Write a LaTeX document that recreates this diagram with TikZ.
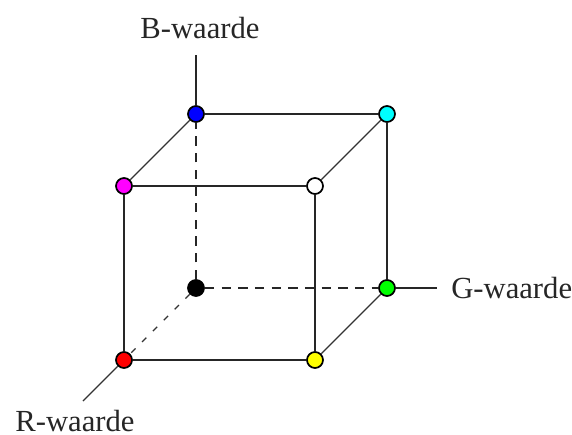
\documentclass[tikz,border=0pt]{standalone}
\usepackage{fontspec}
\setmainfont{Liberation Serif}
\usepackage{xcolor}
\definecolor{rgbcyan}{RGB}{0,255,255}
\definecolor{rgbmagenta}{RGB}{255,0,255}
\definecolor{rgbgreen}{RGB}{0,255,0}
\definecolor{rgbyellow}{RGB}{255,255,0}

\begin{document}
\begin{tikzpicture}[
  x=0.75pt, y=-0.75pt,
  hoek/.style ={circle, draw=black, line width=1.3pt, inner sep=0pt,
                minimum size=12pt},
  rib/.style  ={line width=1.5pt, color=black!85},
  schuin/.style={line width=1pt, color=black!80},
  verborgen/.style={rib, dash pattern=on 7pt off 5.5pt},
  lbl/.style  ={font=\fontsize{23}{24}\selectfont, color=black!85, inner sep=0pt}
]
  \useasboundingbox (0,0) rectangle (572,435);

  %% ── Corners of the cube ─────────────────────────────────────────────────
  \node[hoek, fill=black]      (zwart)   at (196, 288) {};
  \node[hoek, fill=rgbgreen]   (groen)   at (387, 288) {};
  \node[hoek, fill=blue]       (blauw)   at (196, 114) {};
  \node[hoek, fill=rgbcyan]    (cyaan)   at (387, 114) {};
  \node[hoek, fill=red]        (rood)    at (124, 360) {};
  \node[hoek, fill=rgbyellow]  (geel)    at (315, 360) {};
  \node[hoek, fill=rgbmagenta] (magenta) at (124, 186) {};
  \node[hoek, fill=white]      (wit)     at (315, 186) {};

  %% ── Axis ends and labels ────────────────────────────────────────────────
  \coordinate (beind) at (196, 55);
  \coordinate (geind) at (437, 288);
  \coordinate (reind) at (83, 401);
  \node[lbl] (blbl) at (200, 28)  {B-waarde};
  \node[lbl, anchor=west] (glbl) at (451, 288) {G-waarde};
  \node[lbl] (rlbl) at (75, 421) {R-waarde};

  %% ── Front and back faces ────────────────────────────────────────────────
  \draw[rib] (magenta) -- (wit);
  \draw[rib] (magenta) -- (rood);
  \draw[rib] (rood) -- (geel);
  \draw[rib] (geel) -- (wit);
  \draw[rib] (blauw) -- (cyaan);
  \draw[rib] (cyaan) -- (groen);

  %% ── Slanted edges ───────────────────────────────────────────────────────
  \draw[schuin] (magenta) -- (blauw);
  \draw[schuin] (wit) -- (cyaan);
  \draw[schuin] (geel) -- (groen);

  %% ── Hidden edges ────────────────────────────────────────────────────────
  \draw[verborgen] (zwart) -- (blauw);
  \draw[verborgen] (zwart) -- (groen);
  \draw[schuin, dash pattern=on 4.5pt off 7pt] (zwart) -- (rood);

  %% ── Axes ────────────────────────────────────────────────────────────────
  \draw[rib] (blauw) -- (beind);
  \draw[rib] (groen) -- (geind);
  \draw[schuin] (rood) -- (reind);

\end{tikzpicture}
\end{document}
